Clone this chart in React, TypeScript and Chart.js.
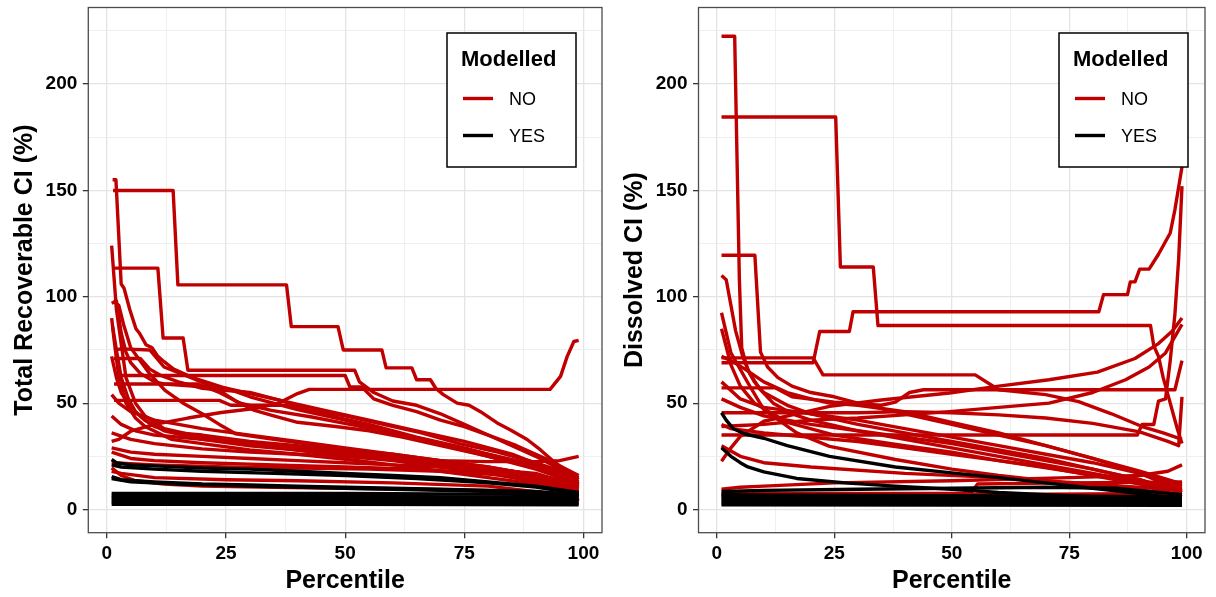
import React, { useEffect, useRef } from 'react';
import { Chart, registerables } from 'chart.js';

Chart.register(...registerables);

type Pt = [number, number];

// ---------- axes / legend text ----------
const X_TICKS = [0, 12.5, 25, 37.5, 50, 62.5, 75, 87.5, 100];
const X_MAJOR = [0, 25, 50, 75, 100];
const Y_TICKS = [0, 25, 50, 75, 100, 125, 150, 175, 200, 225];
const Y_MAJOR = [0, 50, 100, 150, 200];
const X_TITLE = 'Percentile';
const LEFT_Y_TITLE = 'Total Recoverable CI (%)';
const RIGHT_Y_TITLE = 'Dissolved CI (%)';
const LEGEND_TITLE = 'Modelled';
const LEGEND_LABELS = ['NO', 'YES'];

// ---------- Total Recoverable : Modelled = NO ----------
const tNo01: Pt[] = [[1.2,155],[1.9,155],[3,106],[3.6,104],[4.8,94],[6.1,85],[6.8,83],[8.2,77.5],[9.5,76],[10.7,72],[12,69.5],[14,66],[18,62],[25,57],[30,53],[40,47],[50,42],[60,36],[70,31],[80,25],[90,19],[99,12]];
const tNo02: Pt[] = [[1.3,150],[13.9,150],[14.9,105.6],[37.7,105.6],[38.7,86],[48.5,86],[49.6,75],[57.7,75],[58.6,66.6],[64,66.6],[65,61],[67.9,61],[69,57],[70.6,54],[73.5,50],[76,49],[78.4,46],[81.9,40.7],[84.6,37.5],[88.2,32.9],[91,28],[93.7,22.7],[97.9,15.6],[99,14]];
const tNo03: Pt[] = [[1.5,113.5],[10.7,113.5],[11.8,80.6],[16,80.6],[17,65.5],[52,65.5],[53,60],[56,55],[60,51],[65,49],[70,45],[75,40],[80,35],[85,30],[90,25],[95,19],[99,12]];
const tNo04: Pt[] = [[1,32],[2.5,33],[5,36.8],[10,40],[17,43],[24,45.6],[31,47.5],[36,50],[40,54.5],[42.5,56.5],[93,56.5],[95.2,62.6],[96.6,72],[98,79],[99,79.5]];
const tNo05: Pt[] = [[1,124],[2,94],[3,78],[4,62],[6,50],[8,44],[12,38],[20,34],[30,31],[40,28],[50,25],[60,23],[70,20],[80,17],[90,13],[99,7]];
const tNo06: Pt[] = [[1,97],[2,98],[3,83],[4,74],[5,69],[7,64],[10,60],[12,59],[18,58],[25,57],[35,52],[45,47],[55,42],[65,37],[75,32],[85,26],[92,20],[99,11]];
const tNo07: Pt[] = [[1.3,98],[2.5,96],[3.5,87],[5,76],[6.4,71.7],[8.9,64],[12.2,56],[16,50],[20,45],[23.6,40],[27,35.6],[35,33],[45,30],[55,27],[65,24],[75,21],[85,18],[95,14],[99,10]];
const tNo08: Pt[] = [[1.5,75],[3,75.5],[9,75],[12,67],[18.7,61],[23.6,56],[27,51],[31,46.6],[35,44],[40,41],[48,39],[55,37],[62,34],[70,30],[78,26],[86,22],[93,18],[99,13]];
const tNo09: Pt[] = [[1.5,71],[7,71],[9,66],[11.3,63],[15,60],[20,57],[30,55],[37,51],[42,47],[50,44],[58,40],[66,36],[74,31],[82,27],[90,22],[99,15]];
const tNo10: Pt[] = [[2,63],[7,63],[50,63],[51,57.6],[53.5,57.6],[56,52],[60,49],[65,46],[70,42],[75,39],[80,35],[86,30],[92,24],[99,16]];
const tNo11: Pt[] = [[1.5,59],[19,59],[23.6,55],[28,50],[34.5,46.6],[43,43.5],[51,40],[60,36],[70,31],[80,26],[90,21],[99,15]];
const tNo12: Pt[] = [[1.5,51.3],[23.6,51.3],[26,49],[39,49],[45,45],[55,40],[65,34],[75,29],[85,23],[93,18],[99,13]];
const tNo13: Pt[] = [[1,90],[1.5,80],[2.5,62],[4,50],[6,43],[8,39],[13.5,33],[20,31],[30,28],[40,26],[50.6,23.5],[60,21],[70,18],[80,15],[90,12],[99,8]];
const tNo14: Pt[] = [[1.2,86],[2,75],[3,62],[4.5,52],[6,46],[8,42],[10,39],[15,36],[20,35],[30,32],[40,30],[50,28],[60,26],[70,23],[80,20],[90,16],[99,9]];
const tNo15: Pt[] = [[1,29],[5,27],[10,26],[20,25],[30,24],[40,23],[50,22],[60,21],[70,20],[80,19],[90,17],[99,11]];
const tNo16: Pt[] = [[1,27],[5,24],[10,23],[20,22],[35,21],[50,20],[65,19],[80,17],[90,15],[99,8]];
const tNo17: Pt[] = [[1,36],[5,33],[10,31],[20,28.5],[30,27],[40,26],[50,25],[60,24],[70,23],[80,22.5],[90,22.5],[95,23],[99,25]];
const tNo18: Pt[] = [[1,19.6],[3,16],[6,13.5],[12,12],[20,11],[35,10.5],[50,10],[65,9.5],[80,9],[90,8],[99,5]];
const tNo19: Pt[] = [[1,18],[3,17],[10,15],[25,14],[40,13.5],[60,12.5],[80,11],[99,6]];
const tNo20: Pt[] = [[1,44],[3,40],[6,37],[10,35],[20,33],[30,31],[40,29],[50,27],[60,25],[70,22],[80,19],[90,14],[99,6]];
const tNo21: Pt[] = [[1,72],[2,62],[3,55],[5,48],[8,42],[12,37],[20,33],[30,30],[40,28],[55,25],[70,21],[85,16],[99,9]];
const tNo22: Pt[] = [[1,22],[10,21],[25,20],[40,19.5],[55,19],[70,18],[85,16],[95,12],[99,4]];
const tNo23: Pt[] = [[1,54],[2.5,50],[5,46],[10,42],[20,38],[30,35],[40,32],[50,29],[60,26],[70,23],[80,20],[90,16],[99,10]];

// ---------- Total Recoverable : Modelled = YES ----------
const tYes01: Pt[] = [[1,23.5],[2,22],[5,21],[10,20.5],[20,19.5],[30,19],[40,18],[50,17],[60,16],[70,15],[80,13],[90,11],[99,8]];
const tYes02: Pt[] = [[1,21],[3,20],[10,19],[20,18],[35,17],[50,16],[65,14.5],[80,12.5],[90,10.5],[99,7.5]];
const tYes03: Pt[] = [[1,15.5],[3,14],[6,13.5],[10,13],[20,12],[30,11.5],[40,11],[50,10.5],[60,10],[70,9.5],[80,9],[90,8.5],[99,7]];
const tYes04: Pt[] = [[1,14.5],[5,13],[15,12],[30,11],[50,10],[70,9],[90,8],[99,6]];
const tYes05: Pt[] = [[1,7.5],[50,7.5],[99,7]];
const tYes06: Pt[] = [[1,6.5],[50,6.3],[99,5.5]];
const tYes07: Pt[] = [[1,5.5],[50,5.3],[99,4.5]];
const tYes08: Pt[] = [[1,4.5],[50,4.3],[99,3.5]];
const tYes09: Pt[] = [[1,3.5],[50,3.3],[99,2.8]];
const tYes10: Pt[] = [[1,2.5],[50,2.5],[99,2.2]];

// ---------- Dissolved : Modelled = NO ----------
const dNo01: Pt[] = [[1,222.5],[3.8,222.5],[4.8,108],[5.3,76],[6.5,66],[8,60],[10,55],[15,49],[20,45],[30,40],[40,36],[50,32],[60,28],[70,24],[80,19],[90,14],[99,8]];
const dNo02: Pt[] = [[1,184.5],[25.3,184.5],[26.3,114],[33.3,114],[34.3,86.5],[92.3,86.5],[93,77],[94,72],[95,62],[96.5,50],[98,38],[99,31]];
const dNo03: Pt[] = [[1,119.5],[8.1,119.5],[9.3,74],[10.8,67],[13,62],[16,58],[20,55],[25,53],[30,50],[40,45],[50,40],[60,35],[70,30],[80,24],[90,17],[99,9]];
const dNo04: Pt[] = [[1,110],[2,108],[3,96],[4,84],[5.5,72],[7,64],[9,57],[12,50],[16,45],[20,42],[30,37],[40,33],[50,29],[60,25],[70,21],[80,17],[90,13],[99,8]];
const dNo05: Pt[] = [[1,69],[20.5,69],[21.9,83.7],[28.2,83.7],[29,93],[81.3,93],[82.3,101],[87.4,101],[88,107],[89,107],[90,113],[92,113],[94,120],[96.5,130],[97.5,141],[99,161]];
const dNo06: Pt[] = [[1,71.3],[20.5,71.3],[22.6,63.3],[55,63.3],[60,56.3],[70,54],[77,50.7],[84,45],[90.5,39],[95,36],[99,33]];
const dNo07: Pt[] = [[1,92.5],[3,73.6],[6.6,59.6],[10,47],[17,36],[24,29.7],[38,23.5],[50,19],[60,16],[70,13.5],[80,11],[90,9],[99,7]];
const dNo08: Pt[] = [[1,85],[3,68],[5,58],[8,50],[15,41],[25,35],[40,30],[50,27],[60,23],[75,18],[90,13],[99,10]];
const dNo09: Pt[] = [[1,35],[89.5,35],[90.5,40],[93,40],[94,51],[95.5,52],[96.5,70],[97.5,92],[98.3,118],[99,152]];
const dNo10: Pt[] = [[1,57.2],[12.4,57.2],[16,53],[25,50.5],[35,49],[38,50.5],[41,55],[44,56.3],[97.5,56.3],[99,70]];
const dNo11: Pt[] = [[1,22.7],[3,29],[5,34.4],[10,41.5],[17,45],[24,48.5],[35,51.5],[49.5,54.8],[60,58],[70.7,61],[81,64.6],[89,71],[94,78],[97,84],[99,90]];
const dNo12: Pt[] = [[1,39],[5,39.5],[10,40],[20,42],[30,43],[40,44.5],[49.5,46],[60,48],[70.7,50],[80,55],[87,61],[92,67],[95.5,73.6],[99,87]];
const dNo13: Pt[] = [[1,45.5],[30,45.5],[40,46],[50,45.5],[60,44.5],[70,43],[80,40.5],[90,36.5],[96,32],[98.3,30],[99,53]];
const dNo14: Pt[] = [[1,52],[5,48],[10,44],[20,40],[30,37],[40,34],[50,31],[60,27],[70,23],[80,19],[90,14],[99,8]];
const dNo15: Pt[] = [[1,60],[5,52],[10,48],[20,45],[30,42],[40,38],[50,34],[60,30],[70,26],[80,22],[90,17],[99,11]];
const dNo16: Pt[] = [[1,30],[5,25],[10,22],[20,20],[40,17],[60,15],[80,12],[99,9]];
const dNo17: Pt[] = [[1,9.5],[5,10.5],[10,11],[25,12.5],[50,13.5],[75,15],[90,16],[96,18],[99,21]];
const dNo18: Pt[] = [[1,6.5],[50,7],[99,7.5]];
const dNo19: Pt[] = [[1,7.5],[54,7.5],[55.5,12],[75,12.5],[99,13]];
const dNo20: Pt[] = [[1,40],[3,38],[10,36],[20,34],[30,32],[40,29],[50,26],[60,23],[70,20],[80,16],[90,12],[99,6]];
const dNo21: Pt[] = [[1,72],[3,70],[6,66],[10,60],[15,55],[20,52],[24,50],[30,49],[40,46],[50,41],[60,36],[70,30],[80,24],[90,18],[99,12]];

// ---------- Dissolved : Modelled = YES ----------
const dYes01: Pt[] = [[1,45.5],[2,42],[3.5,38],[6,35.5],[10,33.5],[15,30],[24,25],[38,20],[51,17],[60,15],[70,12.5],[80,10],[90,7.5],[99,5]];
const dYes02: Pt[] = [[1,29],[2,27],[3,25],[5,22],[6.6,20],[10,17.7],[17,14.6],[28,12.4],[38,11],[50,9.5],[60,8],[70,7],[80,6],[90,5],[99,4]];
const dYes03: Pt[] = [[1,8.5],[10,9],[30,9.5],[50,10],[70,10.5],[85,10],[99,7]];
const dYes04: Pt[] = [[1,7],[50,6.5],[99,6]];
const dYes05: Pt[] = [[1,6],[99,5.5]];
const dYes06: Pt[] = [[1,5],[99,4.5]];
const dYes07: Pt[] = [[1,4],[99,3.5]];
const dYes08: Pt[] = [[1,3],[99,2.8]];
const dYes09: Pt[] = [[1,2.2],[99,2]];

const totalNo = [tNo01, tNo02, tNo03, tNo04, tNo05, tNo06, tNo07, tNo08, tNo09, tNo10, tNo11, tNo12, tNo13, tNo14, tNo15, tNo16, tNo17, tNo18, tNo19, tNo20, tNo21, tNo22, tNo23];
const totalYes = [tYes01, tYes02, tYes03, tYes04, tYes05, tYes06, tYes07, tYes08, tYes09, tYes10];
const dissNo = [dNo01, dNo02, dNo03, dNo04, dNo05, dNo06, dNo07, dNo08, dNo09, dNo10, dNo11, dNo12, dNo13, dNo14, dNo15, dNo16, dNo17, dNo18, dNo19, dNo20, dNo21];
const dissYes = [dYes01, dYes02, dYes03, dYes04, dYes05, dYes06, dYes07, dYes08, dYes09];

// ---------- styles ----------
const RED = '#c00000';
const BLACK = '#000000';
const FAMILY = '"Liberation Sans", Arial, Helvetica, sans-serif';
const GRID_MAJOR = '#e4e4e4';
const GRID_MINOR = '#ededed';
const FRAME = '#4d4d4d';
const LINE_W = 3.4;

const framePlugin = {
  id: 'frameLegend',
  afterDatasetsDraw(chart: any, _args: any, opts: any) {
    const { ctx, chartArea } = chart;
    ctx.save();
    ctx.strokeStyle = FRAME;
    ctx.lineWidth = 1.3;
    ctx.strokeRect(chartArea.left, chartArea.top, chartArea.right - chartArea.left, chartArea.bottom - chartArea.top);
    const { left, top, width, height } = opts;
    ctx.fillStyle = '#ffffff';
    ctx.fillRect(left, top, width, height);
    ctx.strokeStyle = '#000000';
    ctx.lineWidth = 1.5;
    ctx.strokeRect(left, top, width, height);
    ctx.fillStyle = '#000000';
    ctx.textAlign = 'left';
    ctx.textBaseline = 'alphabetic';
    ctx.font = `bold 22px ${FAMILY}`;
    ctx.fillText(LEGEND_TITLE, left + 14, top + 33);
    const colors = [RED, BLACK];
    const rowY = [top + 65.5, top + 102.5];
    ctx.font = `18px ${FAMILY}`;
    LEGEND_LABELS.forEach((lab, i) => {
      ctx.strokeStyle = colors[i];
      ctx.lineWidth = 3.4;
      ctx.beginPath();
      ctx.moveTo(left + 16, rowY[i]);
      ctx.lineTo(left + 46, rowY[i]);
      ctx.stroke();
      ctx.fillStyle = '#000000';
      ctx.textBaseline = 'middle';
      ctx.fillText(lab, left + 62, rowY[i] + 1.5);
    });
    ctx.restore();
  },
};

type PanelProps = {
  no: Pt[][];
  yes: Pt[][];
  yTitle: string;
  left: number;
  axisWidth: number;
  padRight: number;
  titlePad: number;
  legendLeft: number;
};

function Panel({ no, yes, yTitle, left, axisWidth, padRight, titlePad, legendLeft }: PanelProps) {
  const ref = useRef<HTMLCanvasElement | null>(null);
  useEffect(() => {
    if (!ref.current) return;
    const mk = (s: Pt[], color: string) => ({
      data: s.map(([x, y]) => ({ x, y })),
      borderColor: color,
      backgroundColor: color,
      borderWidth: LINE_W,
      pointRadius: 0,
      tension: 0,
      fill: false,
      borderJoinStyle: 'round' as const,
      borderCapStyle: 'butt' as const,
    });
    const datasets = [...yes.map((s) => mk(s, BLACK)), ...no.map((s) => mk(s, RED))];
    const gridColor = (major: number[]) => (c: any) => (major.includes(c.tick?.value) ? GRID_MAJOR : GRID_MINOR);
    const gridWidth = (major: number[]) => (c: any) => (major.includes(c.tick?.value) ? 1.3 : 0.9);
    const tickCol = (major: number[]) => (c: any) => (major.includes(c.tick?.value) ? '#333333' : 'rgba(0,0,0,0)');
    const chart = new Chart(ref.current, {
      type: 'line',
      data: { datasets } as any,
      options: {
        animation: false,
        responsive: true,
        maintainAspectRatio: false,
        events: [],
        layout: { padding: { left: 0, top: 7.5, right: padRight, bottom: 0 } },
        plugins: {
          legend: { display: false },
          tooltip: { enabled: false },
          frameLegend: { left: legendLeft, top: 33, width: 129, height: 134 },
        } as any,
        scales: {
          x: {
            type: 'linear',
            min: -3.9,
            max: 103.9,
            afterBuildTicks: (s: any) => {
              s.ticks = X_TICKS.map((v) => ({ value: v }));
            },
            afterFit: (s: any) => {
              s.height = 64.3;
              s.paddingLeft = 0;
              s.paddingRight = 0;
            },
            grid: {
              color: gridColor(X_MAJOR),
              lineWidth: gridWidth(X_MAJOR),
              tickColor: tickCol(X_MAJOR),
              tickLength: 5.5,
              tickWidth: 1.3,
              drawTicks: true,
            },
            border: { display: false },
            ticks: {
              autoSkip: false,
              maxRotation: 0,
              padding: 3.9,
              color: '#000000',
              font: { family: FAMILY, size: 19, weight: 'bold' },
              callback: (v: any) => (X_MAJOR.includes(Number(v)) ? String(v) : ''),
            },
            title: {
              display: true,
              text: X_TITLE,
              color: '#000000',
              font: { family: FAMILY, size: 25, weight: 'bold' },
              padding: { top: 0, bottom: 0.8 },
            },
          },
          y: {
            type: 'linear',
            min: -10.9,
            max: 236,
            afterBuildTicks: (s: any) => {
              s.ticks = Y_TICKS.map((v) => ({ value: v }));
            },
            afterFit: (s: any) => {
              s.width = axisWidth;
              s.paddingTop = 0;
              s.paddingBottom = 0;
            },
            grid: {
              color: gridColor(Y_MAJOR),
              lineWidth: gridWidth(Y_MAJOR),
              tickColor: tickCol(Y_MAJOR),
              tickLength: 5.5,
              tickWidth: 1.3,
              drawTicks: true,
            },
            border: { display: false },
            ticks: {
              autoSkip: false,
              padding: 5.5,
              color: '#000000',
              font: { family: FAMILY, size: 19, weight: 'bold' },
              callback: (v: any) => (Y_MAJOR.includes(Number(v)) ? String(v) : ''),
            },
            title: {
              display: true,
              text: yTitle,
              color: '#000000',
              font: { family: FAMILY, size: 25, weight: 'bold' },
              padding: { top: titlePad, bottom: 0 },
            },
          },
        },
      } as any,
      plugins: [framePlugin],
    });
    return () => chart.destroy();
  }, [no, yes, yTitle, axisWidth, padRight, titlePad, legendLeft]);

  return (
    <div style={{ position: 'absolute', left, top: 0, width: 608, height: 597 }}>
      <canvas ref={ref} />
    </div>
  );
}

export default function App() {
  return (
    <div style={{ position: 'absolute', left: 0, top: 0, width: 1216, height: 597, background: '#ffffff', overflow: 'hidden' }}>
      <Panel no={totalNo} yes={totalYes} yTitle={LEFT_Y_TITLE} left={0} axisWidth={88.3} padRight={6} titlePad={10} legendLeft={447} />
      <Panel no={dissNo} yes={dissYes} yTitle={RIGHT_Y_TITLE} left={608} axisWidth={90.5} padRight={11} titlePad={12.5} legendLeft={451} />
    </div>
  );
}
